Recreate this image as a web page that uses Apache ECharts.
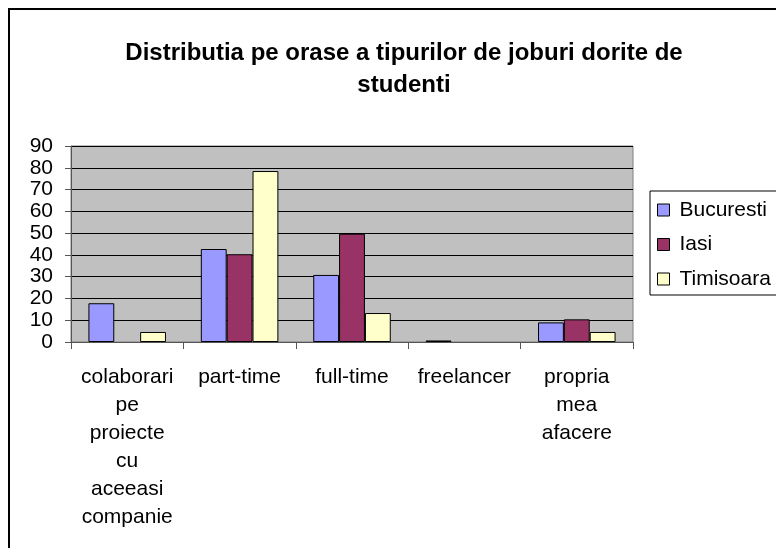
<!DOCTYPE html>
<html>
<head>
<meta charset="utf-8">
<script src="https://cdn.jsdelivr.net/npm/echarts@6/dist/echarts.min.js"></script>
<style>
  html, body { margin: 0; padding: 0; background: #fff; }
  #chart { width: 776px; height: 548px; }
</style>
</head>
<body>
<div id="chart"></div>
<script>
// categorii si valori
var categories = [
  'colaborari\npe\nproiecte\ncu\naceeasi\ncompanie',
  'part-time',
  'full-time',
  'freelancer',
  'propria\nmea\nafacere'
]
var bucuresti = [17.8, 42.7, 30.8, 0.7, 9]
var iasi = [null, 40.3, 49.7, null, 10.4]
var timisoara = [4.6, 78.5, 13.3, null, 4.6]
var yTicks = [0, 10, 20, 30, 40, 50, 60, 70, 80, 90]

var font = 'Arial, "Liberation Sans", sans-serif'
var chart = echarts.init(document.getElementById('chart'))

function barSeries (name, data, color) {
  return {
    name: name,
    type: 'bar',
    data: data,
    barGap: '0%',
    barCategoryGap: '31%',
    itemStyle: { color: color, borderColor: '#000', borderWidth: 1 }
  }
}

chart.setOption({
  animation: false,
  backgroundColor: '#fff',
  title: {
    text: 'Distributia pe orase a tipurilor de joburi dorite de\nstudenti',
    left: 399,
    top: 32,
    textAlign: 'center',
    textStyle: { fontFamily: font, fontSize: 24, fontWeight: 'bold', color: '#000', lineHeight: 32 }
  },
  graphic: [{
    type: 'rect',
    shape: { x: 9, y: 9, width: 900, height: 700 },
    style: { fill: null, stroke: '#000', lineWidth: 2 },
    z: 100
  }],
  legend: {
    orient: 'vertical',
    left: 650,
    top: 191,
    padding: [8, 40, 5, 7],
    itemGap: 12.5,
    itemWidth: 12,
    itemHeight: 12,
    borderColor: '#000',
    borderWidth: 1,
    icon: 'rect',
    itemStyle: { borderColor: '#000', borderWidth: 1 },
    textStyle: { fontFamily: font, fontSize: 21, color: '#000', lineHeight: 22, padding: [0, 0, 0, 5] },
    data: ['Bucuresti', 'Iasi', 'Timisoara']
  },
  grid: {
    left: 71,
    right: 143,
    top: 146,
    bottom: 206,
    show: true,
    backgroundColor: '#c0c0c0',
    borderColor: '#808080',
    borderWidth: 1
  },
  xAxis: {
    type: 'category',
    data: categories,
    axisLine: { lineStyle: { color: '#555', width: 1 } },
    axisTick: { show: true, length: 7, lineStyle: { color: '#555' } },
    axisLabel: { fontFamily: font, fontSize: 21, color: '#000', lineHeight: 28, margin: 21, interval: 0 }
  },
  yAxis: {
    type: 'value',
    min: 0,
    max: 90,
    interval: 10,
    axisLine: { show: true, lineStyle: { color: '#555', width: 1 } },
    axisTick: { show: true, length: 6, lineStyle: { color: '#555' } },
    axisLabel: {
      fontFamily: font, fontSize: 21, color: '#000', margin: 18,
      formatter: function (v) { return yTicks.indexOf(v) >= 0 ? String(v) : '' }
    },
    splitLine: { lineStyle: { color: '#000', width: 1 } }
  },
  series: [
    barSeries('Bucuresti', bucuresti, '#9999ff'),
    barSeries('Iasi', iasi, '#993366'),
    barSeries('Timisoara', timisoara, '#ffffcc')
  ]
})
</script>
</body>
</html>
